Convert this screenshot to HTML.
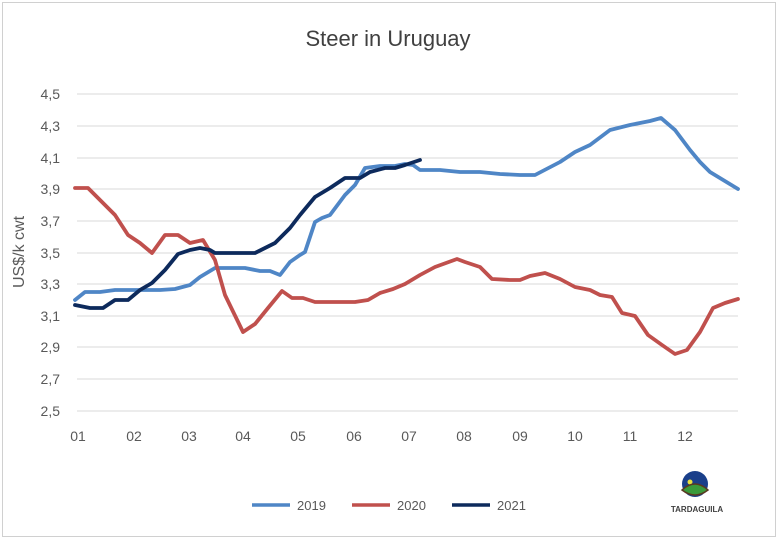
<!DOCTYPE html>
<html><head><meta charset="utf-8"><style>
body{margin:0;background:#fff;}
svg{display:block;font-family:"Liberation Sans",sans-serif;}
</style></head><body>
<svg width="780" height="540" viewBox="0 0 780 540">
<rect x="2.5" y="2.5" width="773" height="534" fill="#fff" stroke="#d0d0d0"/>
<text x="388" y="46" font-size="22" text-anchor="middle" fill="#404040">Steer in Uruguay</text>
<g stroke="#d9d9d9" stroke-width="1">
<line x1="77" x2="738" y1="94" y2="94"/><line x1="77" x2="738" y1="126" y2="126"/>
<line x1="77" x2="738" y1="158" y2="158"/><line x1="77" x2="738" y1="189" y2="189"/>
<line x1="77" x2="738" y1="221" y2="221"/><line x1="77" x2="738" y1="253" y2="253"/>
<line x1="77" x2="738" y1="284" y2="284"/><line x1="77" x2="738" y1="316" y2="316"/>
<line x1="77" x2="738" y1="347" y2="347"/><line x1="77" x2="738" y1="379" y2="379"/>
<line x1="77" x2="738" y1="411" y2="411"/>
</g>
<g font-size="14" fill="#595959" text-anchor="end">
<text x="60" y="99">4,5</text><text x="60" y="131">4,3</text><text x="60" y="163">4,1</text>
<text x="60" y="194">3,9</text><text x="60" y="226">3,7</text><text x="60" y="258">3,5</text>
<text x="60" y="289">3,3</text><text x="60" y="321">3,1</text><text x="60" y="352">2,9</text>
<text x="60" y="384">2,7</text><text x="60" y="416">2,5</text>
</g>
<g font-size="14" fill="#595959" text-anchor="middle">
<text x="78" y="441">01</text><text x="134" y="441">02</text><text x="189" y="441">03</text>
<text x="243" y="441">04</text><text x="298" y="441">05</text><text x="354" y="441">06</text>
<text x="409" y="441">07</text><text x="464" y="441">08</text><text x="520" y="441">09</text>
<text x="575" y="441">10</text><text x="630" y="441">11</text><text x="685" y="441">12</text>
</g>
<text transform="translate(24,252) rotate(-90)" font-size="16" fill="#595959" text-anchor="middle">US$/k cwt</text>
<g fill="none" stroke-width="3.8" stroke-linejoin="round" stroke-linecap="round">
<polyline stroke="#4f86c6" points="75,300 85,292 100,292 115,290 130,290 160,290 175,289 190,285 200,277 215,268 245,268 260,271 270,271 280,275 290,262 300,255 305,252 315,222 322,218 330,215 345,195 355,185 365,168 380,166 395,166 405,164 413,165 420,170 440,170 460,172 480,172 500,174 520,175 535,175 560,162 575,152 590,145 610,130 630,125 640,123 650,121 661,118 675,130 690,150 700,162 710,172 738,189"/>
<polyline stroke="#c0504d" points="75,188 88,188 100,200 115,215 128,235 140,243 152,253 165,235 178,235 190,243 203,240 215,260 225,295 243,332 255,324 268,308 282,291 292,298 303,298 315,302 355,302 368,300 380,293 393,289 405,284 420,275 435,267 457,259 465,262 480,267 492,279 510,280 520,280 530,276 545,273 560,279 575,287 590,290 600,295 612,297 622,313 635,316 648,335 662,345 675,354 687,350 700,332 713,308 725,303 738,299"/>
<polyline stroke="#0d2a5c" points="75,305 90,308 103,308 115,300 128,300 140,290 152,283 165,270 178,254 190,250 200,248 210,250 215,253 255,253 265,248 275,243 290,228 300,215 315,197 330,188 345,178 360,178 370,172 385,168 395,168 405,165 420,160"/>
</g>
<g font-size="13" fill="#595959">
<line x1="252" x2="290" y1="505" y2="505" stroke="#4f86c6" stroke-width="3.5"/><text x="297" y="510">2019</text>
<line x1="352" x2="390" y1="505" y2="505" stroke="#c0504d" stroke-width="3.5"/><text x="397" y="510">2020</text>
<line x1="452" x2="490" y1="505" y2="505" stroke="#0d2a5c" stroke-width="3.5"/><text x="497" y="510">2021</text>
</g>
<circle cx="695" cy="484" r="13" fill="#1a3f8a"/>
<circle cx="690" cy="482" r="2.5" fill="#e8e040"/>
<path d="M682,490 Q695,478 708,490 Q695,500 682,490Z" fill="#3a9a3a" stroke="#5a3a20" stroke-width="1.5"/>
<text x="697" y="512" font-size="8" font-weight="bold" fill="#404040" text-anchor="middle">TARDAGUILA</text>
</svg>
</body></html>
